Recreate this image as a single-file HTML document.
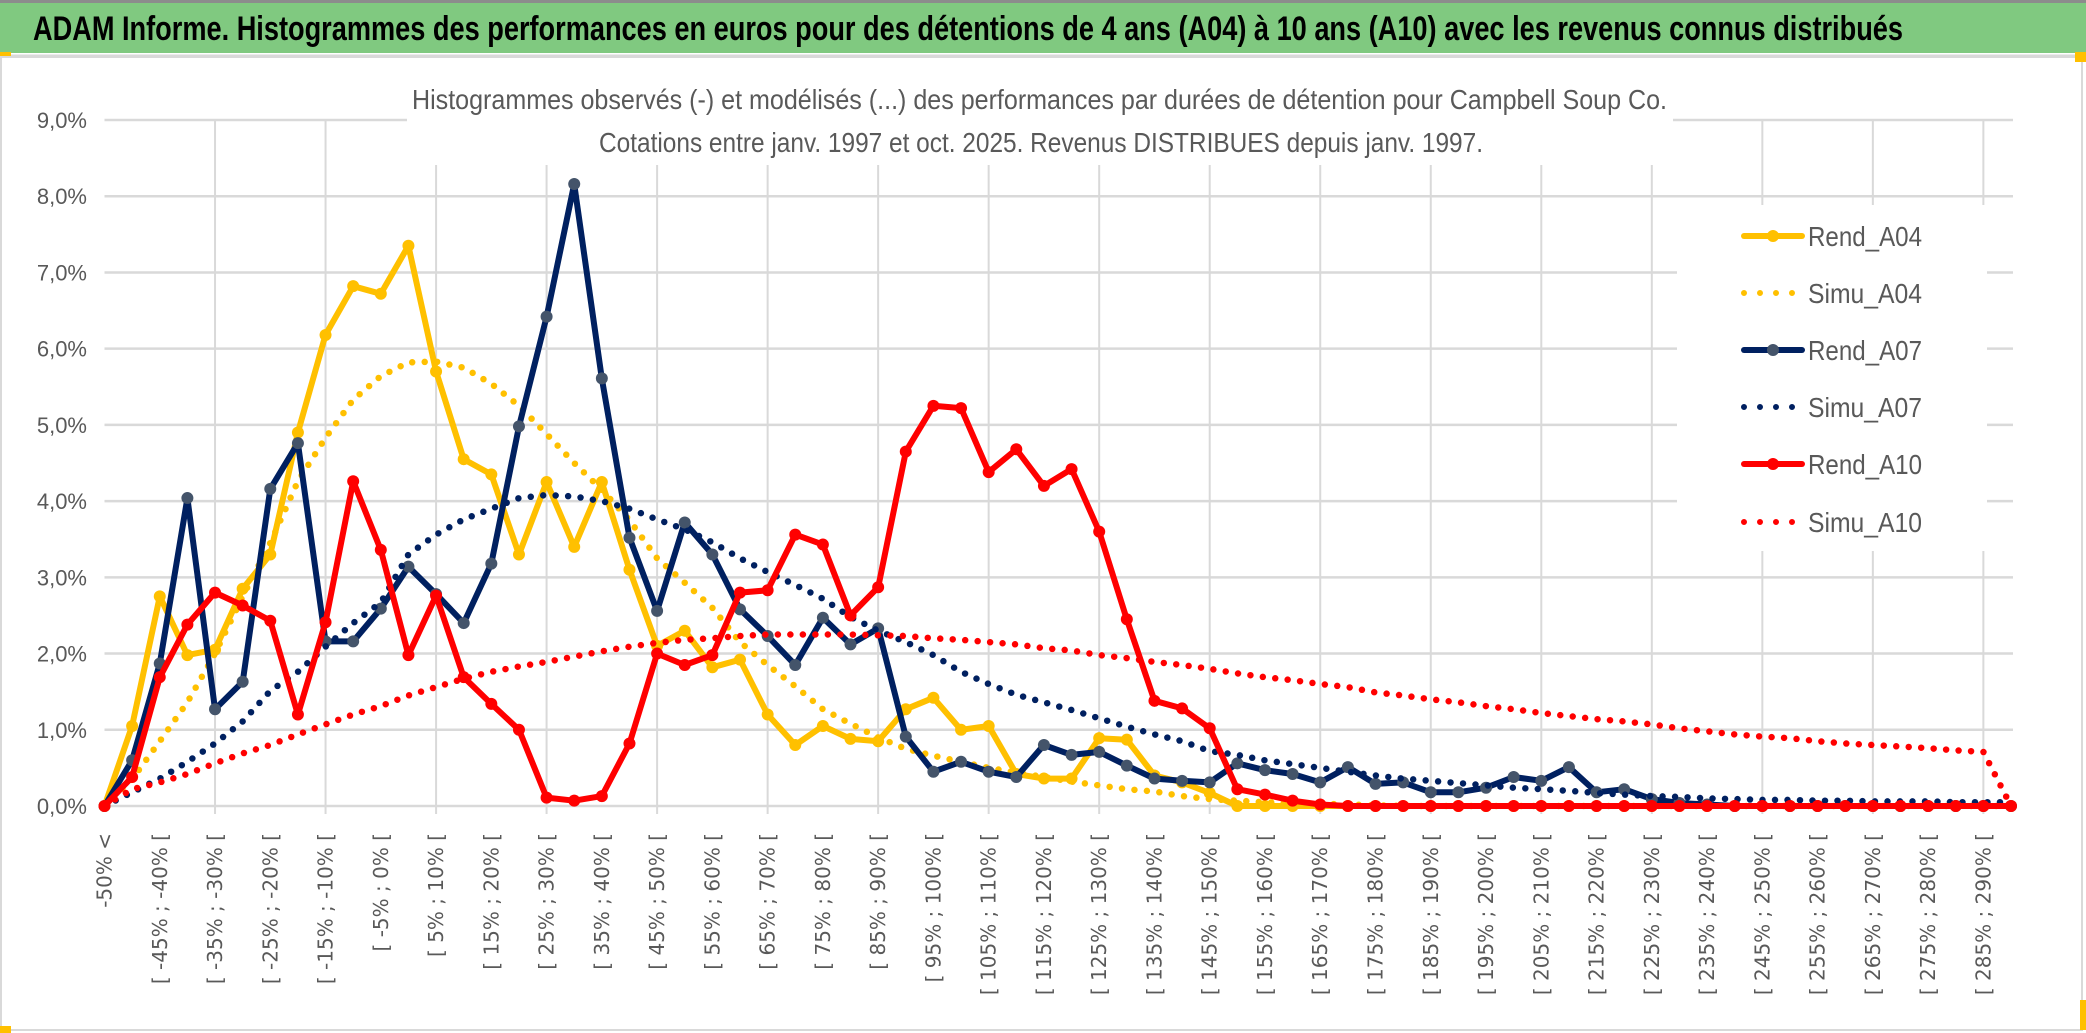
<!DOCTYPE html>
<html><head><meta charset="utf-8">
<style>
html,body{margin:0;padding:0;background:#fff;}
svg{display:block;}
</style></head>
<body>
<svg id="chart" width="2086" height="1033" viewBox="0 0 2086 1033" xmlns="http://www.w3.org/2000/svg">
  <rect x="0" y="0" width="2086" height="1033" fill="#ffffff"/>
  <rect x="0" y="2" width="2086" height="51" fill="#80c980"/>
  <line x1="0" y1="1.5" x2="2086" y2="1.5" stroke="#8c8c8c" stroke-width="3"/>
  <line x1="0" y1="56" x2="2086" y2="56" stroke="#d9d9d9" stroke-width="3"/>
  <rect x="1" y="57" width="2081" height="973" fill="none" stroke="#d9d9d9" stroke-width="2"/>
  <rect x="0" y="52" width="11" height="4" fill="#ffc000"/>
  <rect x="0" y="1026" width="11" height="7" fill="#ffc000"/>
  <rect x="2075" y="52" width="11" height="10" fill="#ffc000"/>
  <rect x="2080" y="1000" width="6" height="30" fill="#ffc000"/>
  <text x="33" y="40" font-family="'Liberation Sans Narrow','Liberation Sans',sans-serif" font-weight="bold" font-size="34" fill="#000" textLength="1870" lengthAdjust="spacingAndGlyphs">ADAM Informe. Histogrammes des performances en euros pour des détentions de 4 ans (A04) à 10 ans (A10) avec les revenus connus distribués</text>
  <g id="grid"></g>
  <rect x="407" y="110" width="1266" height="55" fill="#fff"/>
  <text x="412" y="109" font-family="'Liberation Sans Narrow','Liberation Sans',sans-serif" font-size="28" fill="#595959" textLength="1255" lengthAdjust="spacingAndGlyphs">Histogrammes observés (-) et modélisés (...) des performances par durées de détention pour Campbell Soup Co.</text>
  <text x="599" y="152" font-family="'Liberation Sans Narrow','Liberation Sans',sans-serif" font-size="28" fill="#595959" textLength="884" lengthAdjust="spacingAndGlyphs">Cotations entre janv. 1997 et oct. 2025. Revenus DISTRIBUES depuis janv. 1997.</text>
  <g id="yaxis"></g>
  <g id="xaxis"></g>
  <rect x="1677" y="205" width="310" height="346" fill="#fff"/>
  <g id="series"></g>
  <g id="legend"></g>
</svg>
<script>
const NS = "http://www.w3.org/2000/svg";
const categories = (function(){const a=["-50% <"];for(let k=1;k<70;k++){const lo=-50+5*(k-1);a.push("[ "+lo+"% ; "+(lo+5)+"% [");}return a;})();
const yTicks = [0,1,2,3,4,5,6,7,8,9];
const yTickLabels = ["0,0%","1,0%","2,0%","3,0%","4,0%","5,0%","6,0%","7,0%","8,0%","9,0%"];
const rendA04 = [0,1.05,2.75,1.98,2.05,2.85,3.3,4.9,6.18,6.82,6.72,7.35,5.7,4.55,4.35,3.3,4.25,3.4,4.25,3.1,2.1,2.3,1.82,1.92,1.2,0.8,1.05,0.88,0.85,1.27,1.42,1.0,1.05,0.42,0.36,0.36,0.89,0.87,0.4,0.31,0.17,0,0,0,0,0,0,0,0,0,0,0,0,0,0,0,0,0,0,0,0,0,0,0,0,0,0,0,0,0];
const simuA04 = [0,0.35,0.85,1.36,2.0,2.75,3.45,4.26,4.83,5.33,5.64,5.82,5.83,5.75,5.54,5.25,4.88,4.5,4.15,3.75,3.25,2.93,2.6,2.15,1.85,1.57,1.27,1.08,0.9,0.75,0.66,0.58,0.5,0.44,0.38,0.32,0.27,0.22,0.19,0.13,0.09,0.07,0.05,0.04,0.03,0.02,0.01,0,0,0,0,0,0,0,0,0,0,0,0,0,0,0,0,0,0,0,0,0,0,0];
const rendA07 = [0,0.6,1.87,4.04,1.27,1.63,4.16,4.76,2.16,2.16,2.59,3.14,2.78,2.4,3.18,4.98,6.42,8.16,5.61,3.52,2.56,3.72,3.3,2.58,2.23,1.85,2.47,2.12,2.33,0.91,0.45,0.58,0.45,0.38,0.8,0.67,0.71,0.53,0.36,0.33,0.31,0.56,0.47,0.42,0.31,0.51,0.29,0.31,0.18,0.18,0.24,0.38,0.33,0.51,0.18,0.22,0.09,0.04,0.02,0,0,0,0,0,0,0,0,0,0,0];
const simuA07 = [0,0.18,0.36,0.58,0.82,1.11,1.51,1.76,2.09,2.4,2.67,3.3,3.56,3.76,3.9,4.04,4.08,4.06,4.0,3.9,3.76,3.63,3.46,3.25,3.07,2.9,2.72,2.48,2.3,2.15,1.98,1.76,1.6,1.46,1.36,1.26,1.15,1.04,0.94,0.85,0.72,0.67,0.6,0.55,0.5,0.45,0.4,0.36,0.33,0.3,0.27,0.24,0.22,0.2,0.17,0.15,0.13,0.12,0.1,0.09,0.08,0.08,0.07,0.07,0.06,0.06,0.06,0.05,0.05,0.05];
const rendA10 = [0,0.38,1.69,2.38,2.8,2.63,2.43,1.2,2.41,4.26,3.36,1.98,2.76,1.69,1.34,1.0,0.11,0.07,0.13,0.82,2.0,1.85,1.98,2.8,2.83,3.56,3.43,2.5,2.87,4.65,5.25,5.22,4.38,4.68,4.2,4.42,3.6,2.45,1.38,1.28,1.02,0.22,0.15,0.07,0.02,0,0,0,0,0,0,0,0,0,0,0,0,0,0,0,0,0,0,0,0,0,0,0,0,0];
const simuA10 = [0,0.22,0.31,0.42,0.56,0.69,0.8,0.94,1.07,1.2,1.31,1.45,1.56,1.67,1.76,1.83,1.89,1.96,2.03,2.09,2.14,2.18,2.2,2.23,2.25,2.25,2.25,2.25,2.24,2.23,2.2,2.18,2.15,2.12,2.07,2.04,1.98,1.94,1.89,1.85,1.8,1.74,1.69,1.65,1.6,1.56,1.49,1.45,1.4,1.36,1.31,1.27,1.22,1.18,1.14,1.11,1.07,1.02,0.98,0.94,0.91,0.89,0.85,0.82,0.8,0.78,0.76,0.73,0.71,0];
const seriesNames = ["Rend_A04","Simu_A04","Rend_A07","Simu_A07","Rend_A10","Simu_A10"];

const X0=104.5, X1=2011, Y0=806, Y9=120;
function xs(i){return X0+(X1-X0)*i/(categories.length-1);}
function ys(v){return Y0-(Y0-Y9)*v/9;}

function mk(tag,attrs,parent){const e=document.createElementNS(NS,tag);for(const k in attrs)e.setAttribute(k,attrs[k]);parent.appendChild(e);return e;}

const grid=document.getElementById('grid');
yTicks.forEach((t,i)=>{
  const l=mk('line',{x1:X0,x2:X1+2,y1:ys(t),y2:ys(t),stroke:'#d9d9d9','stroke-width':2.5},grid);
  
  
});
for(let i=4;i<categories.length;i+=4){
  const l=mk('line',{x1:xs(i),x2:xs(i),y1:Y9,y2:Y0+8,stroke:'#d9d9d9','stroke-width':2},grid);
  
  
}
const ya=document.getElementById('yaxis');
yTicks.forEach((t,i)=>{
  const tx=mk('text',{x:87,y:ys(t)+8,'text-anchor':'end','font-family':"'Liberation Sans Narrow','Liberation Sans',sans-serif",'font-size':22,fill:'#595959'},ya);
  tx.textContent=yTickLabels[i];
  
  
});
const xa=document.getElementById('xaxis');
categories.forEach((c,i)=>{
  if(i%2) return;
  const x=xs(i)+7, y=833;
  const tx=mk('text',{x:x,y:y,transform:'rotate(-90 '+x+' '+y+')','text-anchor':'end','font-family':"'DejaVu Sans',sans-serif",'font-size':20,fill:'#595959'},xa);
  tx.textContent=c;
  
  
});

const sg=document.getElementById('series');
const defs=[
 {name:'rend-a04',data:rendA04,color:'#ffc000',solid:true,marker:'#ffc000'},
 {name:'simu-a04',data:simuA04,color:'#ffc000',solid:false},
 {name:'rend-a07',data:rendA07,color:'#002060',solid:true,marker:'#44546a'},
 {name:'simu-a07',data:simuA07,color:'#002060',solid:false},
 {name:'rend-a10',data:rendA10,color:'#ff0000',solid:true,marker:'#ff0000'},
 {name:'simu-a10',data:simuA10,color:'#ff0000',solid:false}
];
defs.forEach(d=>{
  const g=mk('g',{},sg);
  
  
  const pts=d.data.map((v,i)=>xs(i).toFixed(1)+','+ys(v).toFixed(1)).join(' ');
  const pl=mk('polyline',{points:pts,fill:'none',stroke:d.color,'stroke-width':d.solid?6:6.5,'stroke-linejoin':'round','stroke-linecap':'round'},g);
  if(!d.solid){pl.setAttribute('stroke-dasharray','0 12.5');}
  
  
  if(d.solid){
    d.data.forEach((v,i)=>{
      const c=mk('circle',{cx:xs(i),cy:ys(v),r:6,fill:d.marker},g);
      
      
    });
  }
});

const lg=document.getElementById('legend');
const ly=[236,293,350,407,464,522];
defs.forEach((d,i)=>{
  const g=mk('g',{},lg);
  
  
  if(d.solid){
    mk('line',{x1:1744,x2:1802,y1:ly[i],y2:ly[i],stroke:d.color,'stroke-width':6,'stroke-linecap':'round'},g);
    mk('circle',{cx:1773,cy:ly[i],r:6,fill:d.marker},g);
  } else {
    mk('line',{x1:1744,x2:(i===5?1803:1794),y1:ly[i],y2:ly[i],stroke:d.color,'stroke-width':6,'stroke-linecap':'round','stroke-dasharray':'0 16'},g);
  }
  const t=mk('text',{x:1808,y:ly[i]+10,'font-family':"'Liberation Sans Narrow','Liberation Sans',sans-serif",'font-size':28,fill:'#595959',textLength:114,lengthAdjust:'spacingAndGlyphs'},g);
  t.textContent=seriesNames[i];
});
</script>
</body></html>
